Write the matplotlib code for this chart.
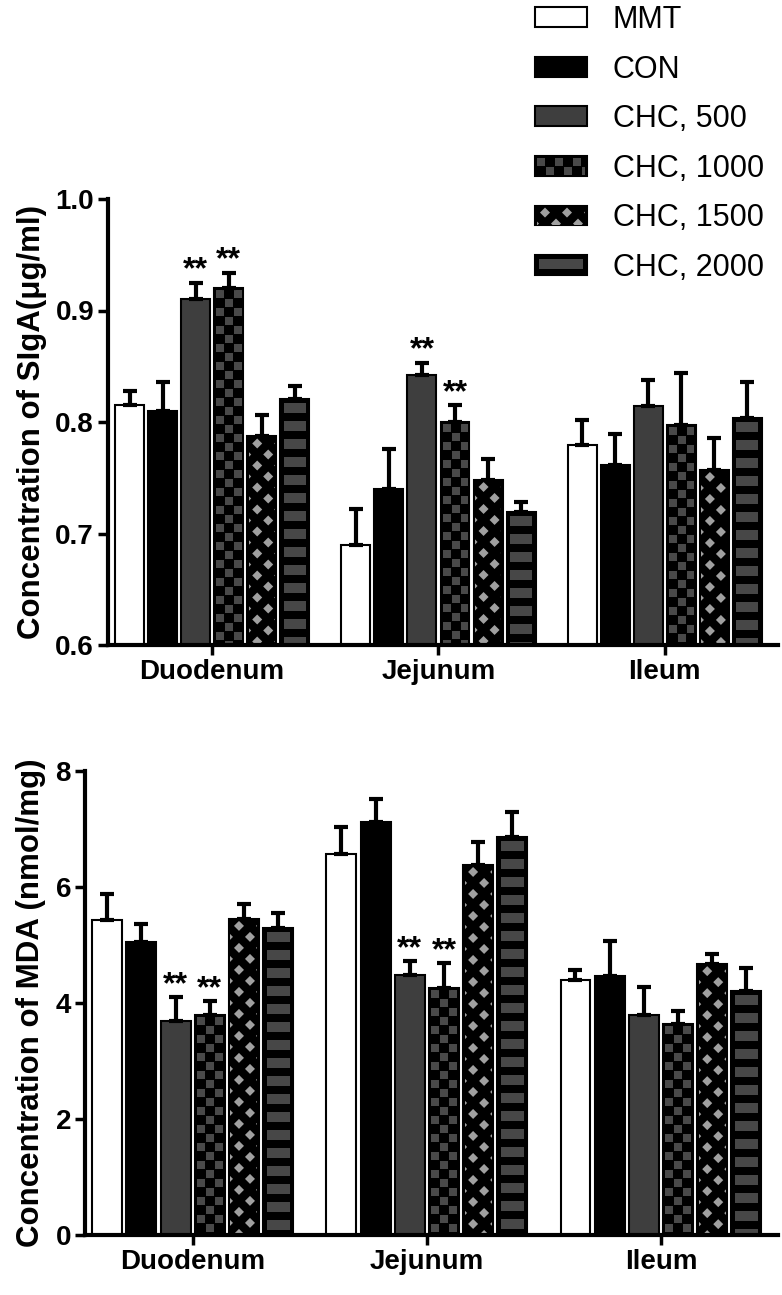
import matplotlib
matplotlib.use("Agg")
import matplotlib.pyplot as plt
import numpy as np
from matplotlib.patches import Rectangle, Polygon
from matplotlib.transforms import IdentityTransform, Bbox

plt.rcParams['font.family'] = ['Liberation Sans', 'DejaVu Sans']
plt.rcParams['font.weight'] = 'bold'

groups = ['Duodenum', 'Jejunum', 'Ileum']
series = ['MMT', 'CON', 'CHC, 500', 'CHC, 1000', 'CHC, 1500', 'CHC, 2000']

# rows = series, columns = groups
siga_mean = [[0.815, 0.690, 0.779],
             [0.810, 0.740, 0.761],
             [0.910, 0.842, 0.814],
             [0.920, 0.800, 0.797],
             [0.787, 0.748, 0.757],
             [0.821, 0.719, 0.804]]
siga_err = [[0.013, 0.032, 0.023],
            [0.026, 0.036, 0.028],
            [0.015, 0.011, 0.024],
            [0.014, 0.015, 0.047],
            [0.019, 0.019, 0.029],
            [0.011, 0.009, 0.032]]
siga_sig = [(2, 0), (3, 0), (2, 1), (3, 1)]

mda_mean = [[5.43, 6.57, 4.40],
            [5.05, 7.12, 4.47],
            [3.69, 4.48, 3.79],
            [3.79, 4.26, 3.64],
            [5.45, 6.38, 4.67],
            [5.29, 6.86, 4.21]]
mda_err = [[0.45, 0.46, 0.17],
           [0.31, 0.39, 0.60],
           [0.41, 0.24, 0.49],
           [0.24, 0.43, 0.22],
           [0.26, 0.40, 0.17],
           [0.26, 0.43, 0.39]]
mda_sig = [(2, 0), (3, 0), (2, 1), (3, 1)]

faces = ['white', 'black', '#3e3e3e', 'black', 'black', 'black']
kinds = [None, None, None, 'checker', 'diamond', 'stripe']

W, H = 782, 1295
fig = plt.figure(figsize=(W / 100, H / 100), dpi=100)


def px_axes(left, top, right, bottom):
    return fig.add_axes([left / W, 1 - bottom / H, (right - left) / W, (bottom - top) / H])


def fill_pattern(parent, kind, x0, y0, x1, y1, zorder):
    """Draw a Prism-like fill pattern inside a pixel box (display coords)."""
    clip = Bbox([[x0 + 1.5, y0], [x1 - 1.5, y1 - 1.5]])
    arts = []
    if kind == 'checker':
        cell = 9
        nr = int((y1 - y0) / cell) + 2
        nc = int((x1 - x0) / cell) + 2
        for r in range(nr):
            for c in range(nc):
                if (r + c) % 2 == 0:
                    arts.append(Rectangle((x0 + 2 + c * cell, y1 - 2 - (r + 1) * cell + 1),
                                          cell - 1, cell - 1, facecolor='#494949', edgecolor='none'))
    elif kind == 'diamond':
        d, rad = 11, 5
        nr = int((y1 - y0) / d) + 2
        for j in range(nr):
            yc = y1 - 7 - j * d
            for k in range(-2, int((x1 - x0) / d) + 3):
                if (j + k) % 2:
                    continue
                xc = x0 + 10 + k * d
                arts.append(Polygon([(xc - rad, yc), (xc, yc + rad), (xc + rad, yc), (xc, yc - rad)],
                                    closed=True, facecolor='#a0a0a0', edgecolor='none'))
    elif kind == 'stripe':
        period, gh = 18, 10
        nr = int((y1 - y0) / period) + 2
        for j in range(nr):
            yt = y1 - 4 - j * period
            arts.append(Rectangle((x0 + 3.5, yt - gh), x1 - x0 - 7, gh,
                                  facecolor='#474747', edgecolor='none'))
    for a in arts:
        a.set_transform(IdentityTransform())
        a.set_zorder(zorder)
        parent.add_artist(a)
        a.set_clip_path(None)
        a.set_clip_box(clip)
        a.set_clip_on(True)


pitch, bw = 0.146, 0.128


def draw_panel(ax, means, errs, sig, ylim, yticks, ylabels, ylabel, labelpad):
    x = np.arange(len(groups))
    ax.set_xlim(-0.46, 2.5)
    ax.set_ylim(*ylim)
    for i in range(len(series)):
        pos = x + (i - 2.5) * pitch
        ax.bar(pos, means[i], width=bw, color=faces[i], edgecolor='black',
               linewidth=1.5, zorder=2)
        ax.errorbar(pos, means[i], yerr=[np.zeros(len(groups)), errs[i]], fmt='none',
                    ecolor='black', elinewidth=3, capsize=5, capthick=3, zorder=4)
        if kinds[i]:
            for p, m in zip(pos, means[i]):
                (bx0, by0), (bx1, by1) = ax.transData.transform(
                    [(p - bw / 2, ylim[0]), (p + bw / 2, m)])
                fill_pattern(ax, kinds[i], bx0, by0, bx1, by1, 2.5)
    for i, g in sig:
        p = g + (i - 2.5) * pitch
        ax.annotate('**', (p, means[i][g] + errs[i][g]), xytext=(0, -2),
                    textcoords='offset points', ha='center', va='bottom',
                    fontsize=23, fontweight='bold', zorder=5)
    for s in ['top', 'right']:
        ax.spines[s].set_visible(False)
    for s in ['left', 'bottom']:
        ax.spines[s].set_linewidth(3)
    ax.set_xticks(x)
    ax.set_xticklabels(groups)
    ax.set_yticks(yticks)
    ax.set_yticklabels(ylabels)
    ax.tick_params(width=2.5, length=7, labelsize=20, pad=3)
    ax.set_ylabel(ylabel, fontsize=22.5, fontweight='bold', labelpad=labelpad)


ax1 = px_axes(108, 199, 778, 645)
ax2 = px_axes(85, 771, 778, 1235)

draw_panel(ax1, siga_mean, siga_err, siga_sig, (0.6, 1.0),
           [0.6, 0.7, 0.8, 0.9, 1.0], ['0.6', '0.7', '0.8', '0.9', '1.0'],
           'Concentration of SIgA(μg/ml)', 6)
draw_panel(ax2, mda_mean, mda_err, mda_sig, (0, 8),
           [0, 2, 4, 6, 8], ['0', '2', '4', '6', '8'],
           'Concentration of MDA (nmol/mg)', 7)

handles = [Rectangle((0, 0), 1, 1, facecolor=faces[i], edgecolor='black', linewidth=1.5)
           for i in range(len(series))]
leg = fig.legend(handles, series, loc='upper left', bbox_to_anchor=(535 / W, 1 - 5 / H),
                 frameon=False, prop={'weight': 'normal', 'size': 22},
                 handlelength=1.70, handleheight=0.62, labelspacing=0.64,
                 handletextpad=0.85, borderpad=0, borderaxespad=0)

fig.canvas.draw()
for h, kind in zip(leg.legend_handles, kinds):
    if kind:
        bb = h.get_window_extent()
        fill_pattern(fig, kind, bb.x0, bb.y0, bb.x1, bb.y1, 6)

fig.savefig('out.png', dpi=100)
